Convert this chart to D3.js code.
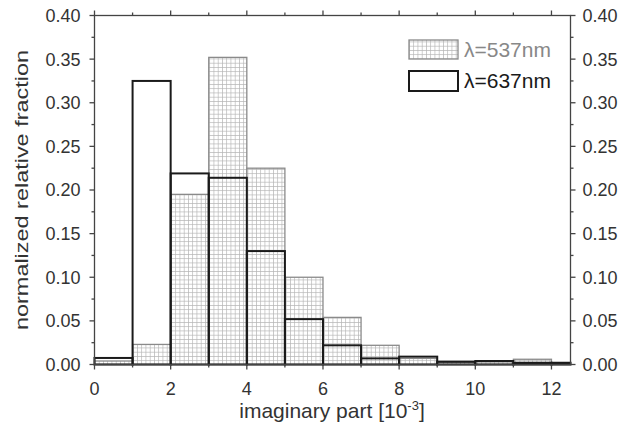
<!DOCTYPE html>
<html>
<head>
<meta charset="utf-8">
<script src="https://cdn.jsdelivr.net/npm/d3@7"></script>
<style>
  body { margin: 0; background: #fff; }
  text { font-family: "Liberation Sans", Arial, sans-serif; }
</style>
</head>
<body>
<div id="chart"></div>
<script>
// bin edges along the imaginary part axis [1e-3]
var binEdges = [0, 1, 2, 3, 4, 5, 6, 7, 8, 9, 10, 11, 12, 12.5];
// normalized relative fraction per bin
var green537 = [0.004, 0.023, 0.195, 0.352, 0.225, 0.100, 0.054, 0.022, 0.007, 0.004, 0.003, 0.006, 0.001];
var red637   = [0.0075, 0.325, 0.219, 0.214, 0.130, 0.052, 0.022, 0.007, 0.009, 0.003, 0.004, 0.002, 0.002];
var xTickLabels = [0, 2, 4, 6, 8, 10, 12];
var yTickLabels = [0, 0.05, 0.10, 0.15, 0.20, 0.25, 0.30, 0.35, 0.40];
var legendNames = ["\u03bb=537nm", "\u03bb=637nm"];

var svg = d3.select("#chart").append("svg")
  .attr("width", 618)
  .attr("height", 427);

var x = d3.scaleLinear().domain([0, 12.5]).range([94.5, 570.5]);
var y = d3.scaleLinear().domain([0, 0.4]).range([364.5, 15.5]);

// grid hatch for the 537nm bars
var defs = svg.append("defs");
var pat = defs.append("pattern")
  .attr("id", "grid")
  .attr("patternUnits", "userSpaceOnUse")
  .attr("x", 94.5).attr("y", 364.5)
  .attr("width", 4.25).attr("height", 4.25);
pat.append("rect").attr("width", 4.25).attr("height", 4.25).attr("fill", "#fff");
pat.append("path")
  .attr("d", "M0,0.3H4.25M0.3,0V4.25")
  .attr("stroke", "#b4b4b4")
  .attr("stroke-width", 0.8);

var bins = function(vals) {
  return vals.map(function(v, i) { return {x0: binEdges[i], x1: binEdges[i + 1], v: v}; });
};

// 537nm hatched bars
svg.append("g").selectAll("rect")
  .data(bins(green537))
  .enter().append("rect")
  .attr("x", d => x(d.x0))
  .attr("y", d => y(d.v))
  .attr("width", d => x(d.x1) - x(d.x0))
  .attr("height", d => y(0) - y(d.v))
  .attr("fill", "url(#grid)")
  .attr("stroke", "#8a8a8a")
  .attr("stroke-width", 1.3);

// 637nm open bars
svg.append("g").selectAll("rect")
  .data(bins(red637))
  .enter().append("rect")
  .attr("x", d => x(d.x0))
  .attr("y", d => y(d.v))
  .attr("width", d => x(d.x1) - x(d.x0))
  .attr("height", d => y(0) - y(d.v))
  .attr("fill", "none")
  .attr("stroke", "#1a1a1a")
  .attr("stroke-width", 2);

// axes
var axisColor = "#444";
var majorY = d3.range(0, 0.4001, 0.05);
var minorY = d3.range(0.025, 0.4, 0.05);
var ticksX = d3.range(0, 13, 1);

var axes = svg.append("g").attr("stroke", axisColor).attr("stroke-width", 1.3);
axes.append("rect")
  .attr("x", x(0)).attr("y", y(0.4))
  .attr("width", x(12.5) - x(0)).attr("height", y(0) - y(0.4))
  .attr("fill", "none");

majorY.forEach(function(v) {
  axes.append("line").attr("x1", x(0) - 5).attr("x2", x(0)).attr("y1", y(v)).attr("y2", y(v));
  axes.append("line").attr("x1", x(12.5)).attr("x2", x(12.5) + 5).attr("y1", y(v)).attr("y2", y(v));
});
minorY.forEach(function(v) {
  axes.append("line").attr("x1", x(0) - 3).attr("x2", x(0)).attr("y1", y(v)).attr("y2", y(v));
  axes.append("line").attr("x1", x(12.5)).attr("x2", x(12.5) + 3).attr("y1", y(v)).attr("y2", y(v));
});
ticksX.forEach(function(v) {
  var len = v % 2 === 0 ? 5 : 3;
  axes.append("line").attr("x1", x(v)).attr("x2", x(v)).attr("y1", y(0)).attr("y2", y(0) + len);
  axes.append("line").attr("x1", x(v)).attr("x2", x(v)).attr("y1", y(0.4)).attr("y2", y(0.4) - len);
});

var fmt = d3.format(".2f");
var labels = svg.append("g").attr("fill", "#333").attr("font-size", 18);
yTickLabels.forEach(function(v) {
  labels.append("text").attr("x", x(0) - 14).attr("y", y(v)).attr("dy", "0.36em")
    .attr("text-anchor", "end").text(fmt(v));
  labels.append("text").attr("x", x(12.5) + 12).attr("y", y(v)).attr("dy", "0.36em")
    .attr("text-anchor", "start").text(fmt(v));
});
xTickLabels.forEach(function(v) {
  labels.append("text").attr("x", x(v)).attr("y", y(0) + 30)
    .attr("text-anchor", "middle").text(v);
});

// axis titles
svg.append("text")
  .attr("transform", "translate(28,190) rotate(-90)")
  .attr("text-anchor", "middle")
  .attr("font-size", 19).attr("fill", "#333")
  .attr("textLength", 280).attr("lengthAdjust", "spacingAndGlyphs")
  .text("normalized relative fraction");

var xt = svg.append("text")
  .attr("x", 332).attr("y", 418)
  .attr("text-anchor", "middle")
  .attr("font-size", 21).attr("fill", "#333");
xt.append("tspan").text("imaginary part [10");
xt.append("tspan").attr("dy", -8).attr("font-size", 13).text("-3");
xt.append("tspan").attr("dy", 8).text("]");

// legend
var leg = svg.append("g");
leg.append("rect").attr("x", 409).attr("y", 40).attr("width", 49).attr("height", 19)
  .attr("fill", "url(#grid)").attr("stroke", "#8a8a8a").attr("stroke-width", 1.3);
leg.append("text").attr("x", 464).attr("y", 57).attr("font-size", 21).attr("fill", "#888")
  .text(legendNames[0]);
leg.append("rect").attr("x", 409).attr("y", 71).attr("width", 49).attr("height", 20)
  .attr("fill", "#fff").attr("stroke", "#1a1a1a").attr("stroke-width", 2);
leg.append("text").attr("x", 464).attr("y", 88).attr("font-size", 21).attr("fill", "#1a1a1a")
  .text(legendNames[1]);
</script>
</body>
</html>
